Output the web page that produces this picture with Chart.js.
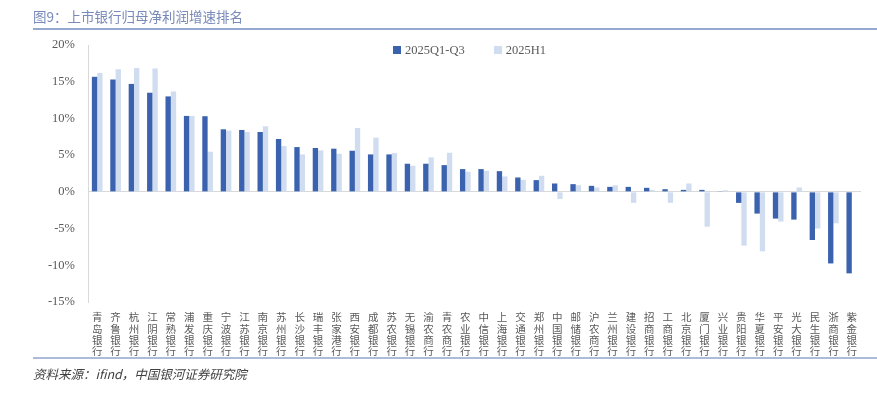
<!DOCTYPE html>
<html><head><meta charset="utf-8">
<script src="https://cdn.jsdelivr.net/npm/chart.js@4"></script>
<style>
html,body{margin:0;padding:0;background:#fff;}
#wrap{position:relative;width:877px;height:398px;overflow:hidden;}
#title{position:absolute;left:33px;top:6px;font:13.5px "Noto Sans CJK SC",sans-serif;color:#7889ba;white-space:nowrap;}
#tline{position:absolute;left:33px;top:28px;width:844px;height:2px;background:#96a8d0;}
#bline{position:absolute;left:33px;top:357px;width:844px;height:2px;background:#adbbd8;}
#src{position:absolute;left:33px;top:364px;font:italic 12.5px "Noto Sans CJK SC",sans-serif;color:#404040;white-space:nowrap;}
#legend{position:absolute;left:393px;top:43px;font:12.5px "Liberation Serif",serif;color:#595959;white-space:nowrap;}
#legend span.box{display:inline-block;width:8px;height:8px;margin-right:4px;vertical-align:0px;}
#legend span.item{margin-right:29px;}
canvas{position:absolute;left:0;top:0;}
</style></head>
<body><div id="wrap">
<canvas id="c" width="877" height="398"></canvas>
<div id="title">图9：上市银行归母净利润增速排名</div>
<div id="tline"></div>
<div id="bline"></div>
<div id="legend"></div>
<div id="src">资料来源：ifind，中国银河证券研究院</div>
</div>
<script>
const categories = ["青岛银行","齐鲁银行","杭州银行","江阴银行","常熟银行","浦发银行","重庆银行","宁波银行","江苏银行","南京银行","苏州银行","长沙银行","瑞丰银行","张家港行","西安银行","成都银行","苏农银行","无锡银行","渝农商行","青农商行","农业银行","中信银行","上海银行","交通银行","郑州银行","中国银行","邮储银行","沪农商行","兰州银行","建设银行","招商银行","工商银行","北京银行","厦门银行","兴业银行","贵阳银行","华夏银行","平安银行","光大银行","民生银行","浙商银行","紫金银行"];
const seriesQ1Q3 = [15.67,15.3,14.7,13.5,13.0,10.34,10.3,8.52,8.43,8.15,7.2,6.1,5.97,5.88,5.6,5.1,5.1,3.83,3.83,3.64,3.1,3.1,2.82,1.96,1.6,1.14,1.05,0.82,0.68,0.68,0.55,0.36,0.27,0.27,0.09,-1.5,-2.96,-3.64,-3.78,-6.56,-9.75,-11.1];
const seriesH1 = [16.2,16.7,16.86,16.8,13.67,10.34,5.47,8.34,8.15,8.93,6.24,5.1,5.65,5.19,8.7,7.38,5.28,3.55,4.69,5.33,2.73,2.87,2.1,1.64,2.19,-0.96,0.9,0.6,0.9,-1.5,0.27,-1.5,1.14,-4.74,0.22,-7.33,-8.1,-4.05,0.6,-5.0,-4.28,0.09];
const seriesNames = ["2025Q1-Q3","2025H1"];
const seriesColors = ['#3a62ae','#d0ddf1'];
const yTicks = {min:-15,max:20,step:5};

const chart = new Chart(document.getElementById('c'),{
  type:'bar',
  data:{
    labels:categories.map(s=>s.split('')),
    datasets:[
      {label:seriesNames[0],data:seriesQ1Q3,backgroundColor:seriesColors[0],categoryPercentage:0.58,barPercentage:1},
      {label:seriesNames[1],data:seriesH1,backgroundColor:seriesColors[1],categoryPercentage:0.58,barPercentage:1}
    ]
  },
  options:{
    responsive:false,animation:false,
    layout:{padding:{top:45,right:16,left:0,bottom:0}},
    plugins:{legend:{display:false},tooltip:{enabled:false}},
    scales:{
      x:{
        grid:{display:false},border:{display:false},
        ticks:{autoSkip:false,maxRotation:0,minRotation:0,padding:2,color:'#595959',
          font:{family:'"Noto Sans CJK SC"',size:10.5,lineHeight:1.05}},
        afterFit:s=>{s.height=96;}
      },
      y:{
        min:yTicks.min,max:yTicks.max,
        grid:{drawTicks:false,color:c=>c.tick&&c.tick.value===0?'#d9d9d9':'rgba(0,0,0,0)',lineWidth:1},
        border:{display:true,color:'#d9d9d9'},
        ticks:{stepSize:yTicks.step,padding:13,color:'#595959',callback:v=>v+'%',
          font:{family:'"Liberation Serif"',size:12.5}},
        afterFit:s=>{s.width=88;}
      }
    }
  }
});
// legend built from the chart's datasets
document.getElementById('legend').innerHTML = chart.data.datasets.map(d=>
  '<span class="item"><span class="box" style="background:'+d.backgroundColor+'"></span>'+d.label+'</span>').join('');
</script>
</body></html>
